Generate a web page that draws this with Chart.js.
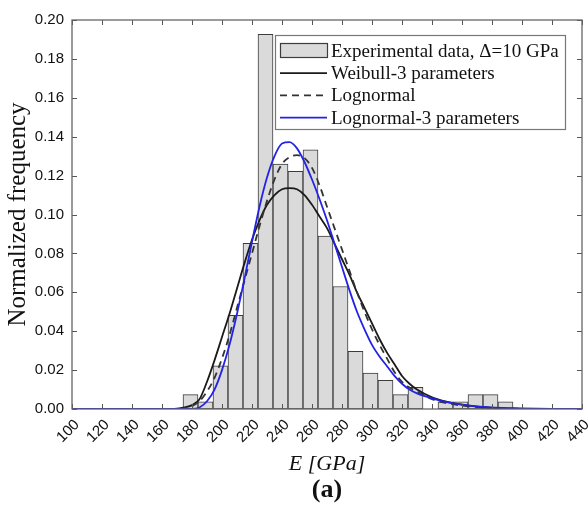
<!DOCTYPE html>
<html>
<head>
<meta charset="utf-8">
<script src="https://cdn.jsdelivr.net/npm/chart.js@4.4.1/dist/chart.umd.min.js"></script>
<style>
  html, body { margin: 0; padding: 0; background: #fff; }
  #wrap { width: 588px; height: 507px; }
</style>
</head>
<body>
<div id="wrap"><canvas id="chart" width="588" height="507"></canvas></div>
<script>
// --- DATA ---
// histogram: bin centres [GPa] and normalized frequency (count / 270)
const binCenters = [179, 189, 199, 209, 219, 229, 239, 249, 259, 269, 279,
                    289, 299, 309, 319, 329, 339, 349, 359, 369, 379, 389];
const binFreq = [0.0074, 0.0037, 0.0222, 0.0481, 0.0852, 0.1926, 0.1259, 0.1222, 0.1333, 0.0889, 0.0630,
                 0.0296, 0.0185, 0.0148, 0.0074, 0.0111, null, 0.0037, 0.0037, 0.0074, 0.0074, 0.0037];

// fitted curves, sampled at these E values
const curveE = [100, 120, 140, 160, 170, 175, 180, 185, 190, 195, 200, 205, 210, 215, 220, 225,
                230, 235, 240, 245, 250, 255, 260, 265, 270, 275, 280, 285, 290, 295, 300, 305,
                310, 315, 320, 325, 330, 340, 350, 360, 370, 380, 390, 400, 420, 440];
const weibull3 = [0, 0, 0, 0, 0.0002, 0.0008, 0.002, 0.005, 0.014, 0.025, 0.037, 0.049, 0.062, 0.075, 0.087, 0.097,
                  0.105, 0.110, 0.113, 0.1136, 0.113, 0.110, 0.105, 0.099, 0.093, 0.085, 0.077, 0.069, 0.060, 0.052, 0.044, 0.036,
                  0.029, 0.023, 0.017, 0.013, 0.010, 0.006, 0.0037, 0.0022, 0.0012, 0.0006, 0.0003, 0.0001, 0, 0];
const lognormal = [0, 0, 0, 0, 0, 0.0003, 0.0015, 0.004, 0.009, 0.016, 0.026, 0.038, 0.052, 0.066, 0.080, 0.094,
                   0.107, 0.118, 0.126, 0.1295, 0.1305, 0.129, 0.124, 0.115, 0.104, 0.093, 0.082, 0.071, 0.060, 0.050, 0.041, 0.033,
                   0.026, 0.019, 0.014, 0.011, 0.009, 0.005, 0.003, 0.0018, 0.001, 0.0005, 0.0003, 0.0001, 0, 0];
const lognormal3 = [0, 0, 0, 0, 0, 0, 0, 0.0008, 0.004, 0.010, 0.020, 0.033, 0.049, 0.067, 0.086, 0.104,
                    0.119, 0.130, 0.1365, 0.1372, 0.134, 0.127, 0.118, 0.108, 0.097, 0.085, 0.073, 0.061, 0.050, 0.041, 0.033, 0.027,
                    0.022, 0.017, 0.013, 0.010, 0.008, 0.0055, 0.0035, 0.0022, 0.0013, 0.0008, 0.0005, 0.0003, 0.0001, 0];

const legendLabels = ['Experimental data, \u0394=10 GPa', 'Weibull-3 parameters', 'Lognormal', 'Lognormal-3 parameters'];

const toPoints = (xs, ys) => xs.map((x, i) => ({ x: x, y: ys[i] }));

// --- inward ticks on all four sides + plot frame ---
const frameTicks = {
    id: 'frameTicks',
    afterDatasetsDraw(chart) {
        const { ctx, chartArea: a, scales: { x, y } } = chart;
        ctx.save();
        ctx.strokeStyle = '#555';
        ctx.lineWidth = 1;
        ctx.beginPath();
        x.ticks.forEach(t => {
            const px = Math.round(x.getPixelForValue(t.value)) + 0.5;
            ctx.moveTo(px, a.bottom); ctx.lineTo(px, a.bottom - 5);
            ctx.moveTo(px, a.top); ctx.lineTo(px, a.top + 5);
        });
        y.ticks.forEach(t => {
            const py = Math.round(y.getPixelForValue(t.value)) + 0.5;
            ctx.moveTo(a.left, py); ctx.lineTo(a.left + 5, py);
            ctx.moveTo(a.right, py); ctx.lineTo(a.right - 5, py);
        });
        ctx.stroke();
        ctx.strokeStyle = '#666';
        ctx.lineWidth = 1.3;
        ctx.strokeRect(a.left, a.top, a.width, a.height);
        ctx.restore();
    }
};

// --- boxed legend in the upper right of the plot ---
const boxLegend = {
    id: 'boxLegend',
    afterDraw(chart) {
        const { ctx, chartArea: a } = chart;
        const w = 290, h = 94;
        const left = a.right - 17 - w, top = a.top + 15;
        ctx.save();
        ctx.fillStyle = '#fff';
        ctx.fillRect(left, top, w, h);
        ctx.strokeStyle = '#777';
        ctx.lineWidth = 1.2;
        ctx.strokeRect(left + 0.5, top + 0.5, w, h);

        const sx0 = left + 5, sx1 = left + 52;
        ctx.font = '19px "Liberation Serif", "Times New Roman", serif';
        ctx.textBaseline = 'middle';
        legendLabels.forEach((label, i) => {
            const cy = top + 16 + i * 22.2;
            const ds = chart.data.datasets.find(d => d.label === label);
            if (ds.type === 'bar') {
                ctx.fillStyle = ds.backgroundColor;
                ctx.fillRect(sx0, cy - 8, sx1 - sx0, 14);
                ctx.strokeStyle = ds.borderColor;
                ctx.lineWidth = 1.2;
                ctx.strokeRect(sx0 + 0.5, cy - 8 + 0.5, sx1 - sx0, 14);
            } else {
                ctx.strokeStyle = ds.borderColor;
                ctx.lineWidth = ds.borderWidth;
                ctx.setLineDash(ds.borderDash || []);
                ctx.beginPath();
                ctx.moveTo(sx0, cy); ctx.lineTo(sx1, cy);
                ctx.stroke();
                ctx.setLineDash([]);
            }
            ctx.fillStyle = '#111';
            ctx.fillText(label, left + 56, cy + 1);
        });
        ctx.restore();
    }
};

const tickFont = { family: '"Liberation Sans", Arial, sans-serif', size: 15 };

new Chart(document.getElementById('chart'), {
    type: 'bar',
    data: {
        datasets: [
            {
                type: 'line', label: legendLabels[3], order: 1,
                data: toPoints(curveE, lognormal3),
                borderColor: '#2323e6', borderWidth: 1.8,
                pointRadius: 0, cubicInterpolationMode: 'monotone', fill: false
            },
            {
                type: 'line', label: legendLabels[2], order: 2,
                data: toPoints(curveE, lognormal),
                borderColor: '#333', borderWidth: 1.8, borderDash: [7, 5],
                pointRadius: 0, cubicInterpolationMode: 'monotone', fill: false
            },
            {
                type: 'line', label: legendLabels[1], order: 3,
                data: toPoints(curveE, weibull3),
                borderColor: '#1a1a1a', borderWidth: 1.8,
                pointRadius: 0, cubicInterpolationMode: 'monotone', fill: false
            },
            {
                type: 'bar', label: legendLabels[0], order: 4,
                data: toPoints(binCenters, binFreq),
                backgroundColor: '#dadada', borderColor: '#3c3c3c',
                borderWidth: 1, borderSkipped: false,
                barPercentage: 1.0, categoryPercentage: 1.0
            }
        ]
    },
    options: {
        responsive: false,
        animation: false,
        devicePixelRatio: 1,
        layout: { padding: { left: 0, right: 6, top: 20, bottom: 4 } },
        plugins: {
            legend: { display: false },
            tooltip: { enabled: false },
            title: {
                display: true, position: 'bottom', fullSize: false, text: '(a)', color: '#111',
                font: { family: '"Liberation Serif", "Times New Roman", serif', size: 26, weight: 'bold', lineHeight: 1.0 },
                padding: { top: 0, bottom: 0 }
            }
        },
        scales: {
            x: {
                type: 'linear', min: 100, max: 440, offset: false,
                grid: { display: false, drawTicks: false },
                border: { display: false },
                ticks: {
                    stepSize: 20, autoSkip: false, maxRotation: 45, minRotation: 45,
                    padding: 7, labelOffset: 5, color: '#111', font: tickFont
                },
                title: {
                    display: true, text: 'E [GPa]', color: '#111',
                    font: { family: '"Liberation Serif", "Times New Roman", serif', size: 22, style: 'italic' },
                    padding: { top: 0, bottom: 0 }
                },
                afterFit(s) { s.height = 68; s.paddingLeft = 0; s.paddingRight = 0; }
            },
            y: {
                min: 0, max: 0.2,
                grid: { display: false, drawTicks: false },
                border: { display: false },
                ticks: {
                    stepSize: 0.02, padding: 8, color: '#111', font: tickFont,
                    callback: v => v.toFixed(2)
                },
                title: {
                    display: true, text: 'Normalized frequency', color: '#111',
                    font: { family: '"Liberation Serif", "Times New Roman", serif', size: 25 },
                    padding: { top: 3, bottom: 0 }
                },
                afterFit(s) { s.width = 72; s.paddingTop = 0; s.paddingBottom = 0; }
            }
        }
    },
    plugins: [frameTicks, boxLegend]
});
</script>
</body>
</html>
